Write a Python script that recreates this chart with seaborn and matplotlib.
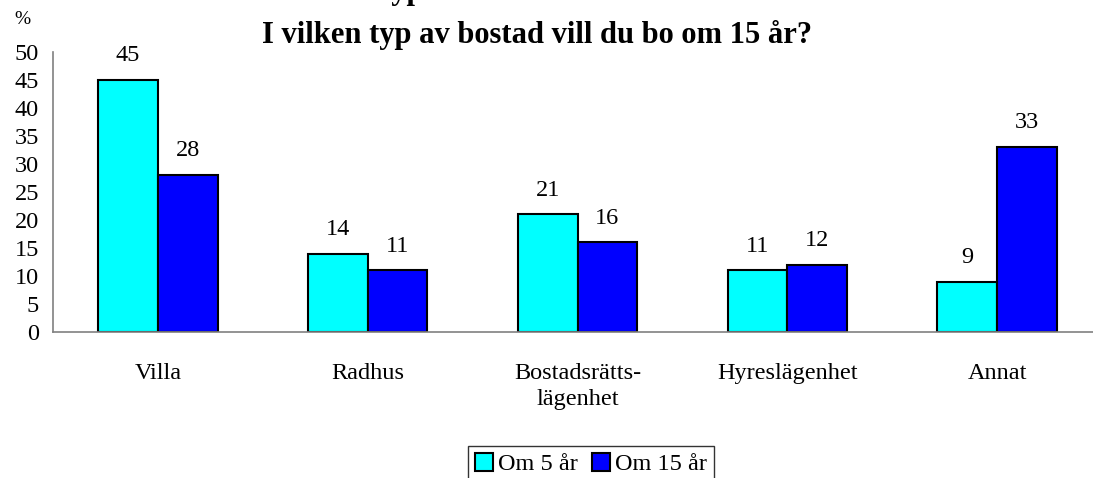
import matplotlib
matplotlib.use('Agg')
import matplotlib.pyplot as plt
import pandas as pd
import seaborn as sns

# data
kategorier = ['Villa', 'Radhus', 'Bostadsrätts-\nlägenhet', 'Hyreslägenhet', 'Annat']
om_5_ar = [45, 14, 21, 11, 9]
om_15_ar = [28, 11, 16, 12, 33]
serier = ['Om 5 år', 'Om 15 år']
farger = ['#00FFFF', '#0000FF']

df = pd.DataFrame({
    'Bostad': kategorier * 2,
    'Procent': om_5_ar + om_15_ar,
    'Serie': [serier[0]] * len(kategorier) + [serier[1]] * len(kategorier),
})

sns.set_style('white')
plt.rcParams['font.family'] = ['Liberation Serif', 'DejaVu Serif']
plt.rcParams.update({'text.color': 'black', 'xtick.labelcolor': 'black',
                     'ytick.labelcolor': 'black'})

fig = plt.figure(figsize=(10.93, 4.78), dpi=100)
ax = fig.add_axes([53 / 1093, 146 / 478, 1049 / 1093, 280 / 478])

sns.barplot(data=df, x='Bostad', y='Procent', hue='Serie', palette=farger,
            width=0.57, edgecolor='black', linewidth=1.5, saturation=1,
            ax=ax, legend=True)

for c in ax.containers:
    ax.bar_label(c, padding=10, fontsize=17.5, color='black')

ax.set_xlim(-0.5, len(kategorier) - 0.5)
ax.set_ylim(0, 50)
ax.set_yticks(range(0, 51, 5))
ax.set_xlabel('')
ax.set_ylabel('')

# category labels in the middle, tick marks at the borders
ax.set_xticks(range(len(kategorier)))
ax.set_xticklabels(kategorier, fontsize=17.5, linespacing=1.35)
ax.set_xticks([i - 0.5 for i in range(len(kategorier) + 1)], minor=True)
ax.tick_params(axis='x', which='major', length=0, pad=22)
ax.tick_params(axis='x', which='minor', length=8, width=1, color='#808080', direction='out')
ax.tick_params(axis='y', length=7, width=1, color='#808080', direction='out',
               labelsize=17.5, pad=3)

for s in ['top', 'right']:
    ax.spines[s].set_visible(False)
for s in ['left', 'bottom']:
    ax.spines[s].set_color('#808080')
    ax.spines[s].set_linewidth(1.2)

fig.text(22 / 1093, 1 - 20 / 478, '%', fontsize=14, ha='center', va='center')
fig.text(537 / 1093, 1 - 43 / 478, 'I vilken typ av bostad vill du bo om 15 år?',
         fontsize=22, fontweight='bold', ha='center', va='baseline')
# first title line, cut by the top edge as in the original
fig.text(541 / 1093, 1 + 1 / 478, 'I vilken typ av bostad vill du bo om 5 år?',
         fontsize=22, fontweight='bold', ha='center', va='baseline')

leg = ax.legend(loc='center', bbox_to_anchor=(591 / 1093, 1 - 464 / 478),
                bbox_transform=fig.transFigure, ncol=2, frameon=True,
                fancybox=False, edgecolor='black', fontsize=17.5,
                handlelength=0.75, handleheight=0.75, handletextpad=0.2,
                columnspacing=0.6, borderpad=0.3, borderaxespad=0)
leg.get_frame().set_linewidth(1)
for h in leg.legend_handles:
    h.set_edgecolor('black')
    h.set_linewidth(1.5)

fig.savefig('out.png', dpi=100)
